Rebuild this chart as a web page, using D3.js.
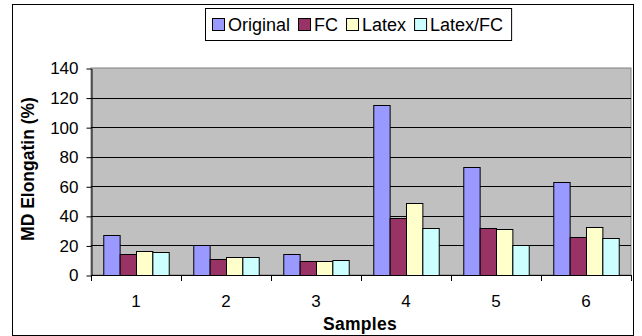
<!DOCTYPE html>
<html>
<head>
<meta charset="utf-8">
<script src="https://cdn.jsdelivr.net/npm/d3@7"></script>
<style>
  body { margin: 0; background: #fff; }
  svg { display: block; font-family: "Liberation Sans", Arial, sans-serif; }
</style>
</head>
<body>
<svg id="chart" width="642" height="336"></svg>
<script>
"use strict";

const samples = ["1", "2", "3", "4", "5", "6"];
const seriesNames = ["Original", "FC", "Latex", "Latex/FC"];
const original = [27, 20, 14, 115, 73, 63];
const fc = [14, 11, 9.5, 38.5, 32, 26];
const latex = [16.5, 12, 9.5, 49, 31, 32.5];
const latexFc = [15.5, 12, 10, 32, 20.5, 25];
const yTicks = [0, 20, 40, 60, 80, 100, 120, 140];
const colors = ["#9999ff", "#993366", "#ffffcc", "#ccffff"];

const values = [original, fc, latex, latexFc];

const svg = d3.select("#chart");

// chart border
svg.append("rect")
  .attr("x", 12.5).attr("y", 4.5)
  .attr("width", 621).attr("height", 331)
  .attr("fill", "#fff").attr("stroke", "#000");

const plot = { left: 91, right: 631, top: 68, bottom: 275 };

const y = d3.scaleLinear().domain([0, 140]).range([plot.bottom, plot.top]);
const x0 = d3.scaleBand().domain(samples).range([plot.left, plot.right]).padding(0);
const bw = x0.bandwidth();
const gap = bw * 0.75 / 5.5;
const x1 = d3.scaleBand().domain(seriesNames).range([gap, bw - gap]).padding(0);

// plot area
svg.append("rect")
  .attr("x", plot.left).attr("y", plot.top)
  .attr("width", plot.right - plot.left).attr("height", plot.bottom - plot.top)
  .attr("fill", "#c0c0c0").attr("stroke", "#808080");

// gridlines
svg.append("g")
  .selectAll("line")
  .data(yTicks.filter((d) => d > 0 && d < 140))
  .enter()
  .append("line")
  .attr("x1", plot.left).attr("x2", plot.right)
  .attr("y1", (d) => Math.round(y(d)) + 0.5)
  .attr("y2", (d) => Math.round(y(d)) + 0.5)
  .attr("stroke", "#000");

// bars
const groups = svg.append("g")
  .selectAll("g")
  .data(samples)
  .enter()
  .append("g")
  .attr("transform", (d) => `translate(${x0(d)},0)`);

groups.selectAll("rect")
  .data((d, i) => seriesNames.map((s, j) => ({ s, j, v: values[j][i] })))
  .enter()
  .append("rect")
  .attr("x", (d) => x1(d.s) + 0.5)
  .attr("y", (d) => Math.round(y(d.v)) + 0.5)
  .attr("width", x1.bandwidth())
  .attr("height", (d) => Math.round(y(0)) - Math.round(y(d.v)))
  .attr("fill", (d) => colors[d.j])
  .attr("stroke", "#000");

// y axis
const yAxis = svg.append("g")
  .attr("transform", `translate(${plot.left + 0.5},0.5)`)
  .call(d3.axisLeft(y).tickValues(yTicks).tickSize(5).tickPadding(8).tickSizeOuter(0));
yAxis.select(".domain").attr("stroke", "#000");
yAxis.selectAll("text").attr("font-size", 17).attr("fill", "#000")
  .attr("font-family", "Liberation Sans, Arial, sans-serif");

// x axis
const xTicks = samples.map((d) => x0(d)).concat([plot.right]);
svg.append("line")
  .attr("x1", plot.left).attr("x2", plot.right)
  .attr("y1", plot.bottom + 0.5).attr("y2", plot.bottom + 0.5)
  .attr("stroke", "#000");
svg.append("g")
  .selectAll("line")
  .data(xTicks)
  .enter()
  .append("line")
  .attr("x1", (d) => Math.round(d) + 0.5).attr("x2", (d) => Math.round(d) + 0.5)
  .attr("y1", plot.bottom).attr("y2", plot.bottom + 6)
  .attr("stroke", "#000");
svg.append("g")
  .selectAll("text")
  .data(samples)
  .enter()
  .append("text")
  .attr("x", (d) => x0(d) + bw / 2)
  .attr("y", 307)
  .attr("text-anchor", "middle")
  .attr("font-size", 17)
  .text((d) => d);

// axis titles
svg.append("text")
  .attr("transform", "translate(34,169) rotate(-90)")
  .attr("text-anchor", "middle")
  .attr("font-size", 17.5).attr("font-weight", "bold")
  .text("MD Elongatin (%)");

svg.append("text")
  .attr("x", 360).attr("y", 330)
  .attr("text-anchor", "middle")
  .attr("font-size", 17.5).attr("font-weight", "bold")
  .attr("letter-spacing", 0.3)
  .text("Samples");

// legend
const legend = svg.append("g");
const legendBox = legend.append("rect")
  .attr("y", 8.5).attr("height", 32)
  .attr("fill", "#fff").attr("stroke", "#000");
let lx = 212;
seriesNames.forEach((name, i) => {
  legend.append("rect")
    .attr("x", lx + 0.5).attr("y", 18.5)
    .attr("width", 12).attr("height", 12)
    .attr("fill", colors[i]).attr("stroke", "#000");
  const t = legend.append("text")
    .attr("x", lx + 16).attr("y", 31)
    .attr("font-size", 18)
    .text(name);
  lx += 16 + t.node().getComputedTextLength() + 8;
});
legendBox.attr("x", 205.5).attr("width", lx - 205);
</script>
</body>
</html>
